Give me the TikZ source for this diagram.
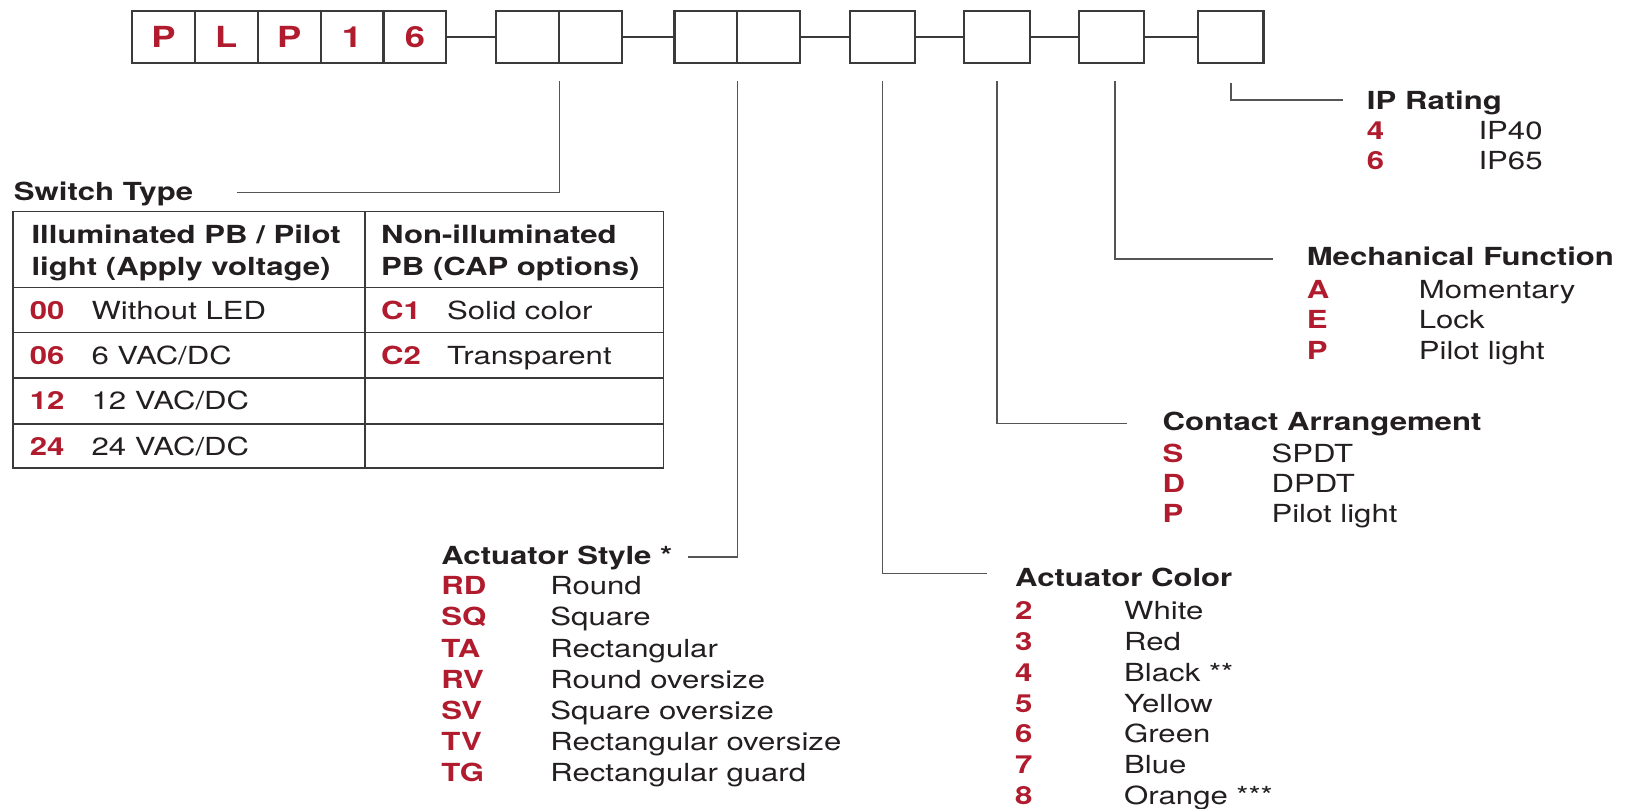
\documentclass[tikz,border=0pt]{standalone}
\usepackage{fontspec}
\setmainfont{TeX Gyre Heros}[FakeStretch=1.25]
\usetikzlibrary{positioning}
\definecolor{ink}{HTML}{231F20}
\definecolor{codered}{RGB}{176,28,46}
\definecolor{boxline}{HTML}{3A3A3A}
\definecolor{leadline}{HTML}{555555}

\begin{document}
\begin{tikzpicture}[x=0.5pt,y=-0.5pt]
	\tikzset{cell/.style={draw=boxline,line width=1pt,minimum width=30.3pt,minimum height=25.4pt,inner sep=0pt,outer sep=0pt,text=codered,font=\fontsize{14}{16}\selectfont\bfseries}}
	\tikzset{single/.style={cell,minimum width=31.5pt}}
	\tikzset{ttl/.style={anchor=base west,inner sep=0pt,text=ink,font=\fontsize{12}{14}\selectfont\bfseries}}
	\tikzset{code/.style={ttl,text=codered}}
	\tikzset{desc/.style={anchor=base west,inner sep=0pt,text=ink,font=\fontsize{12}{14}\selectfont}}
	\tikzset{leader/.style={draw=leadline,line width=0.75pt}}
	\tikzset{grid/.style={draw=boxline,line width=0.8pt}}
	\useasboundingbox (0,0) rectangle (1568,779);

	\node[cell,anchor=west] (p1) at (127.2,35.7) {P};
	\node[cell,right=0pt of p1] (p2) {L};
	\node[cell,right=0pt of p2] (p3) {P};
	\node[cell,right=0pt of p3] (p4) {1};
	\node[cell,right=0pt of p4] (p5) {6};
	\node[cell,right=24.1pt of p5] (s1) {};
	\node[cell,right=0pt of s1] (s2) {};
	\node[cell,right=25.2pt of s2] (a1) {};
	\node[cell,right=0pt of a1] (a2) {};
	\node[single,right=23.8pt of a2] (col) {};
	\node[single,right=23.7pt of col] (con) {};
	\node[single,right=23.75pt of con] (mech) {};
	\node[single,right=26pt of mech] (ip) {};
	\draw[boxline,line width=1pt] (p5.east) -- (s1.west) (s2.east) -- (a1.west) (a2.east) -- (col.west)
		(col.east) -- (con.west) (con.east) -- (mech.west) (mech.east) -- (ip.west);

	\node[ttl] (swt) at (13,193.5) {Switch Type};
	\draw[grid] (12.5,204) rectangle (639.5,451);
	\draw[grid] (352,204) -- (352,451);
	\foreach \y in {277,320.5,364.6,408.7} \draw[grid] (12.5,\y) -- (639.5,\y);
	\node[ttl] (th1a) at (30,234.3) {Illuminated PB / Pilot};
	\node[ttl] (th1b) at (30,265.8) {light (Apply voltage)};
	\node[ttl] (th2a) at (367,234.3) {Non-illuminated};
	\node[ttl] (th2b) at (367,265.8) {PB (CAP options)};
	\foreach \c/\d/\y [count=\i] in {00/Without LED/307.6,06/{6 VAC/DC}/351.6,12/{12 VAC/DC}/394.3,24/{24 VAC/DC}/438.8}
	{
		\node[code] (lc\i) at (28.4,\y) {\c};
		\node[desc] (ld\i) at (87.8,\y) {\d};
	}
	\node[code] (nc1) at (367,307.6) {C1};
	\node[desc] (nd1) at (430.5,307.6) {Solid color};
	\node[code] (nc2) at (367,351.6) {C2};
	\node[desc] (nd2) at (430.5,351.6) {Transparent};

	\node[ttl] (ast) at (425,544.3) {Actuator Style *};
	\foreach \c/\d [count=\i] in {RD/Round,SQ/Square,TA/Rectangular,RV/Round oversize,SV/Square oversize,TV/Rectangular oversize,TG/Rectangular guard}
	{
		\node[code] (asc\i) at (425,{573.3+30*(\i-1)}) {\c};
		\node[desc] (asd\i) at (530,{573.3+30*(\i-1)}) {\d};
	}

	\node[ttl] (acl) at (978,565.5) {Actuator Color};
	\foreach \c/\d [count=\i] in {2/White,3/Red,4/Black **,5/Yellow,6/Green,7/Blue,8/Orange ***}
	{
		\node[code] (acc\i) at (978,{597.4+29.6*(\i-1)}) {\c};
		\node[desc] (acd\i) at (1083,{597.4+29.6*(\i-1)}) {\d};
	}

	\node[ttl] (cat) at (1120,415.2) {Contact Arrangement};
	\foreach \c/\d [count=\i] in {S/SPDT,D/DPDT,P/Pilot light}
	{
		\node[code] (cac\i) at (1120,{445.8+28.8*(\i-1)}) {\c};
		\node[desc] (cad\i) at (1225,{445.8+28.8*(\i-1)}) {\d};
	}

	\node[ttl] (mft) at (1259,256.2) {Mechanical Function};
	\foreach \c/\d [count=\i] in {A/Momentary,E/Lock,P/Pilot light}
	{
		\node[code] (mfc\i) at (1259,{287.3+29.5*(\i-1)}) {\c};
		\node[desc] (mfd\i) at (1367,{287.3+29.5*(\i-1)}) {\d};
	}

	\node[ttl] (ipt) at (1317,105.2) {IP Rating};
	\foreach \c/\d [count=\i] in {4/IP40,6/IP65}
	{
		\node[code] (ipc\i) at (1317,{134.1+28.9*(\i-1)}) {\c};
		\node[desc] (ipd\i) at (1424.5,{134.1+28.9*(\i-1)}) {\d};
	}

	\draw[leader] ([yshift=-8.4pt]s1.south east) |- ([xshift=21pt,yshift=3.9pt]swt.base east);
	\draw[leader] ([yshift=-8.4pt]a1.south east) |- ([xshift=7.5pt,yshift=3.7pt]ast.base east);
	\draw[leader] ([yshift=-8.4pt]col.south) |- ([xshift=-13.5pt,yshift=6.4pt]acl.base west);
	\draw[leader] ([yshift=-8.4pt]con.south) |- ([xshift=-17pt,yshift=3.6pt]cat.base west);
	\draw[leader] ([yshift=-8.4pt,xshift=1.7pt]mech.south) |- ([xshift=-16pt,yshift=3.4pt]mft.base west);
	\draw[leader] ([yshift=-9.6pt]ip.south) |- ([xshift=-11.5pt,yshift=4.4pt]ipt.base west);
\end{tikzpicture}
\end{document}
